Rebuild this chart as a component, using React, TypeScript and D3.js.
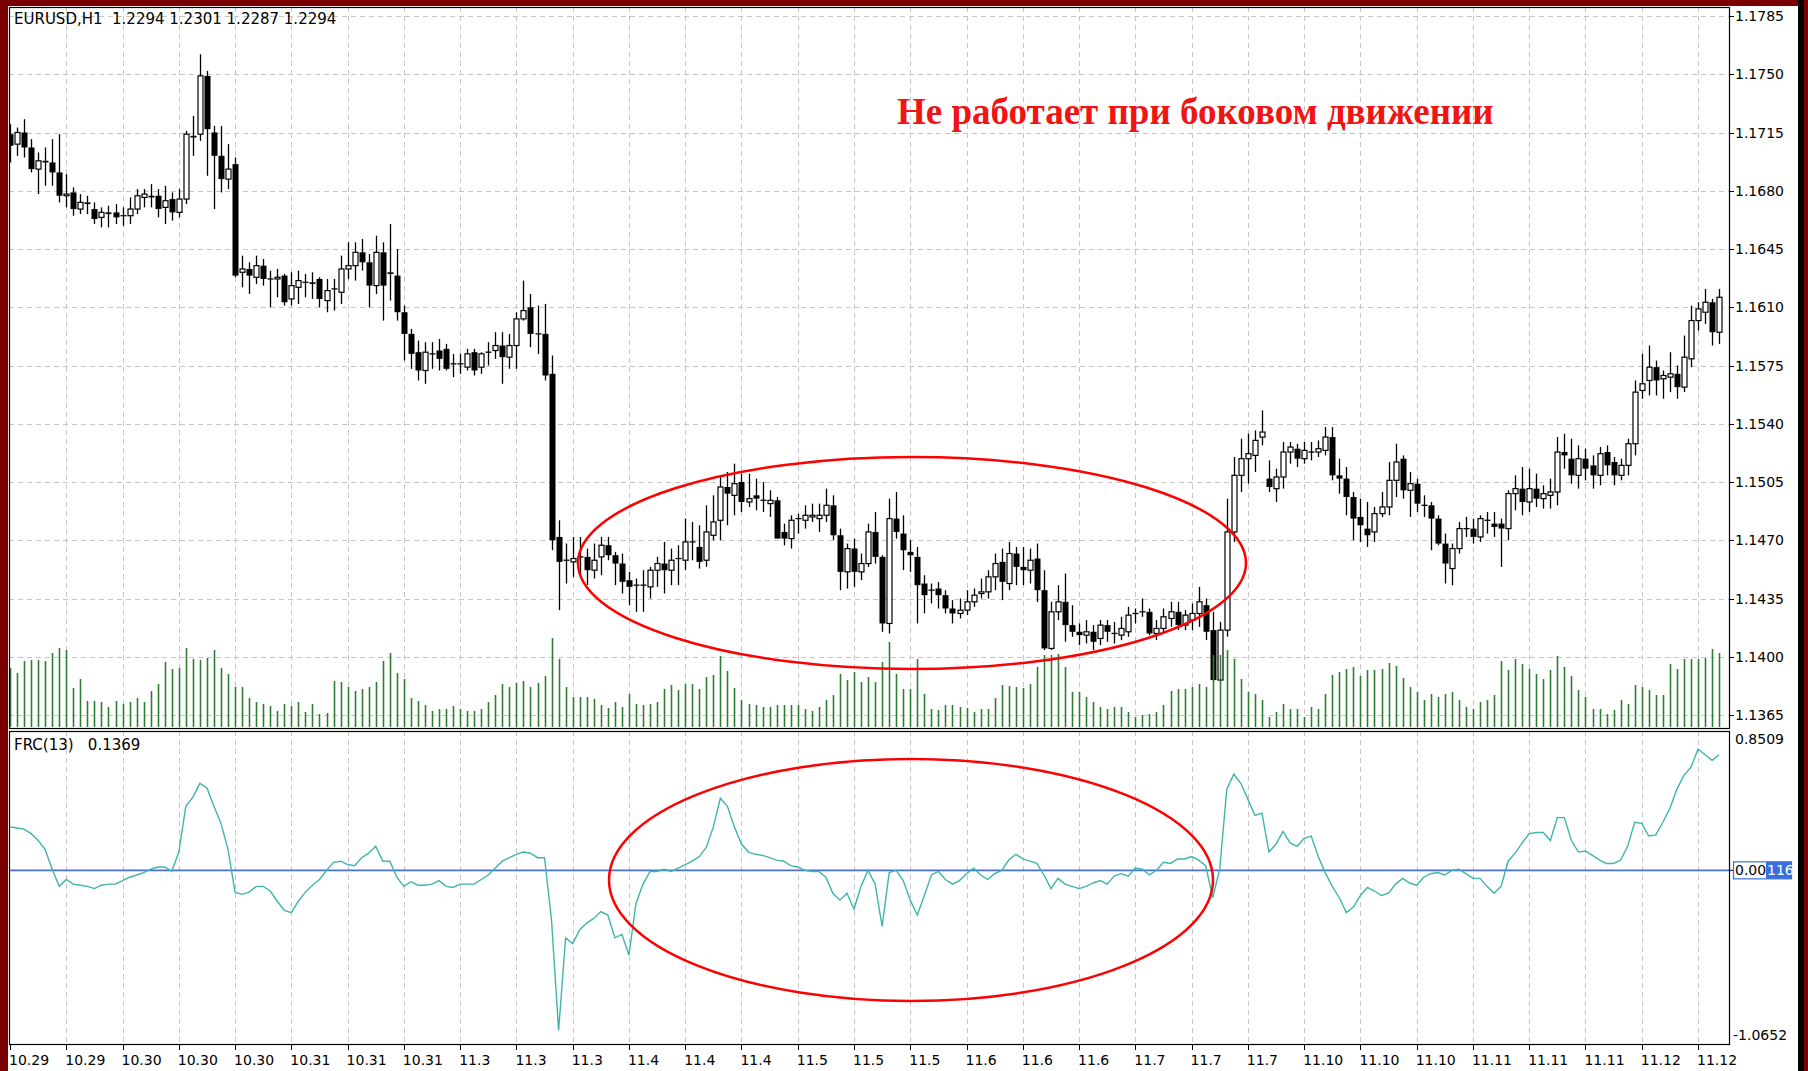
import React from "react";
import * as d3 from "d3";

const opens = [
1.1714,1.1708,1.1715,1.1706,1.1693,1.1698,1.1697,1.1691,1.1677,1.1679,
1.1669,1.1673,1.1669,1.1664,1.1667,1.1667,1.1665,1.1665,1.1669,1.1676,
1.1677,1.1677,1.1670,1.1675,1.1667,1.1675,1.1713,1.1714,1.1749,1.1715,
1.1701,1.1687,1.1696,1.1631,1.1633,1.1628,1.1635,1.1627,1.1627,1.1629,
1.1615,1.1622,1.1625,1.1625,1.1627,1.1614,1.1621,1.1619,1.1633,1.1635,
1.1643,1.1637,1.1623,1.1643,1.1631,1.1629,1.1607,1.1594,1.1583,1.1572,
1.1582,1.1584,1.1585,1.1576,1.1576,1.1574,1.1583,1.1574,1.1583,1.1584,
1.1587,1.1580,1.1587,1.1603,1.1610,1.1594,1.1594,1.1570,1.1472,1.1458,
1.1457,1.1460,1.1460,1.1452,1.1460,1.1467,1.1461,1.1456,1.1446,1.1443,
1.1443,1.1442,1.1452,1.1456,1.1452,1.1459,1.1458,1.1469,1.1466,1.1458,
1.1473,1.1482,1.1502,1.1497,1.1505,1.1493,1.1497,1.1494,1.1492,1.1494,
1.1475,1.1471,1.1483,1.1482,1.1484,1.1483,1.1485,1.1491,1.1473,1.1451,
1.1465,1.1451,1.1456,1.1475,1.1460,1.1420,1.1483,1.1474,1.1463,1.1460,
1.1444,1.1440,1.1441,1.1437,1.1429,1.1426,1.1428,1.1433,1.1438,1.1439,
1.1448,1.1457,1.1444,1.1462,1.1454,1.1452,1.1459,1.1440,1.1405,1.1427,
1.1433,1.1419,1.1415,1.1413,1.1415,1.1411,1.1419,1.1414,1.1413,1.1415,
1.1426,1.1427,1.1427,1.1414,1.1417,1.1423,1.1427,1.1419,1.1422,1.1426,
1.1431,1.1416,1.1386,1.1416,1.1475,1.1509,1.1519,1.1521,1.1532,1.1507,
1.1501,1.1508,1.1523,1.1525,1.1519,1.1523,1.1523,1.1524,1.1532,1.1509,
1.1507,1.1496,1.1484,1.1477,1.1475,1.1486,1.1490,1.1506,1.1519,1.1500,
1.1504,1.1491,1.1491,1.1483,1.1468,1.1453,1.1465,1.1477,1.1477,1.1472,
1.1482,1.1480,1.1480,1.1477,1.1498,1.1501,1.1493,1.1501,1.1495,1.1497,
1.1499,1.1523,1.1519,1.1509,1.1519,1.1515,1.1509,1.1523,1.1517,1.1509,
1.1515,1.1528,1.1560,1.1566,1.1574,1.1567,1.1568,1.1570,1.1562,1.1579,
1.1602,1.1607,1.1613,1.1595];

const highs = [
1.1720,1.1718,1.1723,1.1711,1.1703,1.1706,1.1711,1.1714,1.1690,1.1682,
1.1678,1.1677,1.1673,1.1670,1.1671,1.1672,1.1670,1.1676,1.1681,1.1681,
1.1684,1.1681,1.1683,1.1679,1.1681,1.1716,1.1725,1.1762,1.1752,1.1719,
1.1719,1.1708,1.1700,1.1641,1.1637,1.1641,1.1639,1.1632,1.1633,1.1630,
1.1631,1.1632,1.1630,1.1631,1.1628,1.1627,1.1627,1.1641,1.1649,1.1649,
1.1651,1.1642,1.1653,1.1649,1.1660,1.1645,1.1611,1.1597,1.1590,1.1589,
1.1589,1.1591,1.1588,1.1582,1.1582,1.1585,1.1585,1.1583,1.1589,1.1595,
1.1595,1.1594,1.1607,1.1626,1.1618,1.1611,1.1612,1.1581,1.1482,1.1468,
1.1472,1.1472,1.1465,1.1468,1.1472,1.1472,1.1463,1.1462,1.1451,1.1447,
1.1452,1.1454,1.1460,1.1469,1.1465,1.1467,1.1483,1.1481,1.1479,1.1491,
1.1497,1.1509,1.1511,1.1516,1.1510,1.1510,1.1507,1.1505,1.1500,1.1496,
1.1480,1.1485,1.1486,1.1491,1.1492,1.1492,1.1501,1.1497,1.1477,1.1468,
1.1471,1.1462,1.1480,1.1487,1.1461,1.1495,1.1499,1.1485,1.1470,1.1466,
1.1449,1.1444,1.1445,1.1440,1.1434,1.1435,1.1440,1.1441,1.1447,1.1452,
1.1462,1.1465,1.1469,1.1466,1.1466,1.1465,1.1468,1.1452,1.1433,1.1443,
1.1450,1.1431,1.1420,1.1422,1.1419,1.1422,1.1422,1.1421,1.1424,1.1430,
1.1429,1.1435,1.1429,1.1422,1.1429,1.1433,1.1433,1.1428,1.1432,1.1442,
1.1435,1.1427,1.1421,1.1495,1.1520,1.1531,1.1534,1.1536,1.1548,1.1518,
1.1513,1.1529,1.1529,1.1528,1.1529,1.1529,1.1530,1.1538,1.1538,1.1519,
1.1514,1.1499,1.1495,1.1493,1.1490,1.1499,1.1517,1.1528,1.1521,1.1511,
1.1507,1.1497,1.1493,1.1485,1.1474,1.1468,1.1481,1.1484,1.1483,1.1485,
1.1487,1.1487,1.1483,1.1500,1.1509,1.1514,1.1513,1.1510,1.1503,1.1507,
1.1532,1.1534,1.1531,1.1527,1.1525,1.1521,1.1526,1.1527,1.1520,1.1519,
1.1531,1.1566,1.1582,1.1587,1.1578,1.1572,1.1583,1.1575,1.1593,1.1611,
1.1613,1.1621,1.1615,1.1621];

const lows = [
1.1697,1.1701,1.1700,1.1691,1.1678,1.1683,1.1683,1.1673,1.1670,1.1665,
1.1666,1.1666,1.1660,1.1658,1.1658,1.1660,1.1659,1.1660,1.1666,1.1670,
1.1670,1.1664,1.1660,1.1662,1.1664,1.1672,1.1701,1.1710,1.1689,1.1669,
1.1679,1.1681,1.1628,1.1622,1.1618,1.1624,1.1623,1.1610,1.1616,1.1611,
1.1611,1.1612,1.1616,1.1615,1.1610,1.1607,1.1608,1.1612,1.1627,1.1626,
1.1632,1.1610,1.1618,1.1602,1.1614,1.1602,1.1578,1.1573,1.1566,1.1564,
1.1573,1.1572,1.1572,1.1568,1.1570,1.1572,1.1569,1.1570,1.1575,1.1579,
1.1564,1.1573,1.1573,1.1602,1.1586,1.1582,1.1566,1.1464,1.1428,1.1444,
1.1448,1.1448,1.1443,1.1447,1.1449,1.1458,1.1443,1.1438,1.1431,1.1427,
1.1427,1.1435,1.1442,1.1438,1.1443,1.1443,1.1452,1.1458,1.1453,1.1454,
1.1470,1.1470,1.1479,1.1485,1.1487,1.1490,1.1488,1.1487,1.1484,1.1471,
1.1467,1.1465,1.1474,1.1477,1.1481,1.1475,1.1481,1.1470,1.1440,1.1441,
1.1442,1.1446,1.1454,1.1456,1.1415,1.1414,1.1471,1.1452,1.1451,1.1420,
1.1426,1.1432,1.1429,1.1426,1.1420,1.1423,1.1425,1.1430,1.1435,1.1435,
1.1440,1.1434,1.1440,1.1443,1.1443,1.1444,1.1433,1.1404,1.1404,1.1422,
1.1409,1.1412,1.1407,1.1408,1.1404,1.1407,1.1409,1.1408,1.1410,1.1412,
1.1420,1.1424,1.1413,1.1410,1.1414,1.1418,1.1416,1.1416,1.1416,1.1418,
1.1410,1.1385,1.1385,1.1412,1.1469,1.1499,1.1504,1.1511,1.1527,1.1499,
1.1493,1.1501,1.1516,1.1514,1.1516,1.1518,1.1520,1.1521,1.1506,1.1498,
1.1485,1.1470,1.1469,1.1466,1.1469,1.1484,1.1485,1.1496,1.1495,1.1484,
1.1487,1.1484,1.1464,1.1467,1.1444,1.1443,1.1462,1.1472,1.1468,1.1469,
1.1474,1.1472,1.1454,1.1470,1.1488,1.1485,1.1487,1.1490,1.1489,1.1489,
1.1491,1.1513,1.1504,1.1501,1.1506,1.1501,1.1503,1.1509,1.1503,1.1506,
1.1509,1.1521,1.1555,1.1557,1.1557,1.1555,1.1559,1.1555,1.1559,1.1574,
1.1596,1.1600,1.1587,1.1588];

const closes = [
1.1707,1.1715,1.1706,1.1693,1.1698,1.1697,1.1691,1.1677,1.1678,1.1669,
1.1673,1.1672,1.1663,1.1667,1.1666,1.1664,1.1665,1.1669,1.1677,1.1678,
1.1676,1.1669,1.1674,1.1667,1.1675,1.1714,1.1712,1.1749,1.1717,1.1701,
1.1687,1.1693,1.1629,1.1633,1.1629,1.1635,1.1627,1.1627,1.1628,1.1613,
1.1623,1.1626,1.1625,1.1624,1.1615,1.1620,1.1621,1.1633,1.1635,1.1643,
1.1637,1.1623,1.1643,1.1623,1.1630,1.1607,1.1594,1.1582,1.1572,1.1583,
1.1582,1.1579,1.1573,1.1576,1.1576,1.1582,1.1572,1.1582,1.1583,1.1587,
1.1580,1.1587,1.1603,1.1608,1.1594,1.1594,1.1569,1.1470,1.1457,1.1458,
1.1459,1.1460,1.1452,1.1458,1.1467,1.1461,1.1456,1.1445,1.1442,1.1443,
1.1443,1.1452,1.1456,1.1452,1.1458,1.1459,1.1469,1.1469,1.1457,1.1475,
1.1481,1.1502,1.1498,1.1504,1.1493,1.1495,1.1495,1.1494,1.1494,1.1471,
1.1471,1.1482,1.1483,1.1485,1.1485,1.1485,1.1491,1.1473,1.1451,1.1465,
1.1451,1.1456,1.1475,1.1460,1.1420,1.1483,1.1475,1.1464,1.1461,1.1443,
1.1437,1.1440,1.1437,1.1429,1.1426,1.1428,1.1433,1.1437,1.1439,1.1448,
1.1456,1.1445,1.1462,1.1454,1.1452,1.1458,1.1440,1.1405,1.1427,1.1433,
1.1419,1.1415,1.1413,1.1415,1.1409,1.1419,1.1415,1.1414,1.1417,1.1425,
1.1426,1.1427,1.1414,1.1417,1.1424,1.1427,1.1419,1.1425,1.1426,1.1433,
1.1415,1.1386,1.1416,1.1475,1.1509,1.1519,1.1522,1.1530,1.1535,1.1502,
1.1508,1.1523,1.1526,1.1519,1.1524,1.1523,1.1525,1.1532,1.1509,1.1507,
1.1496,1.1483,1.1479,1.1473,1.1486,1.1490,1.1506,1.1517,1.1500,1.1504,
1.1492,1.1491,1.1483,1.1468,1.1456,1.1465,1.1477,1.1477,1.1472,1.1483,
1.1482,1.1478,1.1477,1.1498,1.1501,1.1493,1.1501,1.1495,1.1498,1.1499,
1.1523,1.1521,1.1509,1.1519,1.1513,1.1509,1.1522,1.1515,1.1509,1.1515,
1.1528,1.1559,1.1564,1.1574,1.1566,1.1569,1.1570,1.1562,1.1580,1.1602,
1.1609,1.1613,1.1595,1.1616];

const volumes = [
59,54,66,67,67,66,74,79,77,39,
48,26,26,25,20,26,23,25,29,25,
36,43,65,58,59,79,68,67,69,77,
59,53,40,40,29,25,23,21,16,23,
21,25,15,23,13,14,46,45,40,36,
38,40,45,66,74,54,48,29,26,22,
16,18,18,21,18,16,16,18,25,32,
43,40,44,46,40,44,51,89,68,40,
30,30,30,28,22,19,25,20,33,23,
22,23,25,38,42,37,43,43,38,50,
52,71,56,39,27,23,22,20,20,22,
22,22,22,18,16,20,27,32,53,47,
55,45,50,45,65,85,53,38,38,68,
33,18,17,22,22,20,19,15,18,18,
29,42,41,40,39,43,60,72,72,73,
60,35,35,30,25,20,18,20,20,15,
10,12,13,15,22,36,38,38,40,43,
40,72,72,77,68,48,35,33,27,10,
15,23,18,18,10,20,18,33,52,55,
58,60,51,57,57,58,64,61,49,40,
35,27,33,30,33,35,27,20,18,25,
27,32,66,57,68,63,58,53,48,57,
71,60,51,37,30,18,18,13,17,27,
23,42,40,37,32,32,63,58,68,68,
68,69,78,74];

const frc = [
0.271,0.264,0.257,0.229,0.186,0.129,0.007,-0.100,-0.057,-0.086,
-0.093,-0.100,-0.114,-0.093,-0.086,-0.086,-0.064,-0.043,-0.029,-0.014,
0.007,0.021,0.021,-0.007,0.114,0.400,0.457,0.543,0.514,0.400,
0.293,0.129,-0.136,-0.150,-0.136,-0.100,-0.100,-0.129,-0.193,-0.250,
-0.264,-0.193,-0.136,-0.093,-0.057,0.000,0.050,0.057,0.036,0.029,
0.079,0.107,0.150,0.057,0.057,-0.043,-0.100,-0.071,-0.093,-0.093,
-0.086,-0.064,-0.100,-0.107,-0.086,-0.086,-0.086,-0.057,-0.029,0.014,
0.057,0.079,0.100,0.114,0.107,0.079,0.079,-0.314,-1.000,-0.421,
-0.457,-0.371,-0.329,-0.300,-0.257,-0.279,-0.421,-0.400,-0.529,-0.207,
-0.086,-0.007,-0.007,0.007,-0.007,0.014,0.036,0.057,0.086,0.143,
0.271,0.450,0.400,0.271,0.164,0.114,0.100,0.093,0.079,0.064,
0.057,0.029,0.021,0.000,-0.007,-0.007,-0.043,-0.143,-0.186,-0.143,
-0.243,-0.100,0.000,-0.086,-0.350,-0.014,0.000,-0.064,-0.186,-0.279,
-0.157,-0.029,-0.007,-0.057,-0.086,-0.064,-0.021,0.014,-0.029,-0.057,
-0.021,0.000,0.064,0.100,0.071,0.057,0.043,-0.029,-0.114,-0.050,
-0.086,-0.100,-0.114,-0.100,-0.079,-0.064,-0.086,-0.036,-0.021,-0.036,
0.014,0.007,-0.029,0.000,0.050,0.043,0.071,0.071,0.086,0.064,
0.029,-0.171,0.007,0.507,0.600,0.543,0.443,0.343,0.357,0.114,
0.164,0.243,0.171,0.150,0.200,0.214,0.086,-0.014,-0.100,-0.171,
-0.264,-0.229,-0.157,-0.107,-0.129,-0.157,-0.143,-0.086,-0.050,-0.079,
-0.093,-0.043,-0.021,-0.014,-0.029,0.000,0.007,-0.021,-0.050,-0.050,
-0.100,-0.143,-0.100,0.057,0.107,0.171,0.229,0.236,0.236,0.186,
0.329,0.329,0.186,0.114,0.121,0.093,0.064,0.043,0.043,0.064,
0.150,0.300,0.293,0.214,0.221,0.300,0.386,0.507,0.593,0.643,
0.757,0.721,0.686,0.721];

const timeLabels = [
"10.29","10.29","10.30","10.30","10.30","10.31","10.31","10.31",
"11.3","11.3","11.3","11.4","11.4","11.4","11.5","11.5","11.5",
"11.6","11.6","11.6","11.7","11.7","11.7","11.10","11.10","11.10",
"11.11","11.11","11.11","11.12","11.12"];

const priceTicks = [1.1785,1.1750,1.1715,1.1680,1.1645,1.1610,1.1575,1.1540,1.1505,1.1470,1.1435,1.1400,1.1365];
const frcRange = [-1.0652, 0.8509];
const headerText = "EURUSD,H1  1.2294 1.2301 1.2287 1.2294";
const frcHeader = "FRC(13)   0.1369";
const noteText = "Не работает при боковом движении";

export default function App() {
  const L = 9, R = 1729, mT = 7, mB = 728, iT = 731, iB = 1044;
  const x = d3.scaleLinear().domain([0, 240]).range([10, 1698]);
  const yP = d3.scaleLinear().domain([1.1365, 1.1785]).range([715, 16]);
  const yV = d3.scaleLinear().domain([0, 100]).range([727, 627]);
  const yI = d3.scaleLinear().domain(frcRange).range([1041, 734]);
  const frcLine = d3.line<number>().x((_, i) => x(i)).y((d) => yI(d));
  const font = "DejaVu Sans";
  const grid = { stroke: "#c6c6c6", strokeWidth: 1, strokeDasharray: "5 4" };
  const tickIdx = timeLabels.map((_, k) => k * 8);

  return (
    <svg width={1808} height={1071} style={{ position: "absolute", left: 0, top: 0, display: "block" }}>
      <defs>
        <clipPath id="mainClip"><rect x={L} y={mT} width={R - L} height={mB - mT} /></clipPath>
        <clipPath id="indClip"><rect x={L} y={iT} width={R - L} height={iB - iT} /></clipPath>
      </defs>
      <rect x={0} y={0} width={1808} height={1071} fill="#7a0000" />
      <rect x={8} y={6} width={1790} height={1065} fill="#ffffff" />
      <rect x={1798} y={0} width={6} height={1071} fill="#000000" />

      <g clipPath="url(#mainClip)">
        {priceTicks.map((p) => (
          <line key={"hg" + p} x1={L} x2={R} y1={Math.round(yP(p)) + 0.5} y2={Math.round(yP(p)) + 0.5} {...grid} />
        ))}
        {tickIdx.slice(1).map((b) => (
          <line key={"vg" + b} x1={Math.round(x(b)) + 0.5} x2={Math.round(x(b)) + 0.5} y1={mT} y2={mB} {...grid} />
        ))}
        {opens.map((o, i) => {
          const c = closes[i];
          const cx = Math.round(x(i)) + 0.5;
          const top = yP(Math.max(o, c));
          const bot = yP(Math.min(o, c));
          const hgt = Math.max(bot - top, 1);
          return (
            <g key={"c" + i}>
              <line x1={cx} x2={cx} y1={yP(highs[i])} y2={yP(lows[i])} stroke="#000" strokeWidth={1.3} />
              {c > o ? (
                <rect x={cx - 2.5} y={top} width={5} height={hgt} fill="#fff" stroke="#000" strokeWidth={1.2} />
              ) : c < o ? (
                <rect x={cx - 3} y={top} width={6} height={hgt} fill="#000" />
              ) : (
                <line x1={cx - 3} x2={cx + 3} y1={top} y2={top} stroke="#000" strokeWidth={1.3} />
              )}
            </g>
          );
        })}
        {volumes.map((v, i) => (
          <line key={"v" + i} x1={Math.round(x(i)) + 0.5} x2={Math.round(x(i)) + 0.5} y1={yV(0)} y2={yV(v)} stroke="#2f7d32" strokeWidth={1.6} />
        ))}
      </g>

      <g clipPath="url(#indClip)">
        {tickIdx.slice(1).map((b) => (
          <line key={"ivg" + b} x1={Math.round(x(b)) + 0.5} x2={Math.round(x(b)) + 0.5} y1={iT} y2={iB} {...grid} />
        ))}
        <line x1={L} x2={R} y1={yI(0)} y2={yI(0)} stroke="#4a6fd8" strokeWidth={1.6} />
        <path d={frcLine(frc) || ""} fill="none" stroke="#3fb5ac" strokeWidth={1.4} />
      </g>

      <rect x={L + 0.5} y={mT + 0.5} width={R - L} height={mB - mT} fill="none" stroke="#000" strokeWidth={1.2} />
      <rect x={L + 0.5} y={iT + 0.5} width={R - L} height={iB - iT} fill="none" stroke="#000" strokeWidth={1.2} />

      {priceTicks.map((p) => (
        <g key={"pt" + p}>
          <line x1={R} x2={R + 5} y1={Math.round(yP(p)) + 0.5} y2={Math.round(yP(p)) + 0.5} stroke="#000" />
          <text x={R + 6} y={yP(p)} dominantBaseline="central" fontFamily={font} fontSize={14} fill="#000">{p.toFixed(4)}</text>
        </g>
      ))}

      <text x={R + 6} y={yI(frcRange[1]) + 5} dominantBaseline="central" fontFamily={font} fontSize={14} fill="#000">{frcRange[1].toFixed(4)}</text>
      <text x={R + 4} y={yI(frcRange[0]) - 6} dominantBaseline="central" fontFamily={font} fontSize={14} fill="#000">{frcRange[0].toFixed(4)}</text>
      <line x1={R} x2={R + 5} y1={yI(0)} y2={yI(0)} stroke="#000" />
      <rect x={R + 4.5} y={yI(0) - 8.5} width={58} height={17} fill="#fff" stroke="#3b6fdc" strokeWidth={1.2} />
      <rect x={R + 37} y={yI(0) - 8.5} width={25} height={17} fill="#3b6fdc" />
      <text x={R + 6} y={yI(0)} dominantBaseline="central" fontFamily={font} fontSize={14} fill="#000">0.00</text>
      <text x={R + 38} y={yI(0)} dominantBaseline="central" fontFamily={font} fontSize={14} fill="#fff">116</text>

      {tickIdx.map((b, k) => (
        <g key={"tt" + k}>
          <line x1={Math.round(x(b)) + 0.5} x2={Math.round(x(b)) + 0.5} y1={iB} y2={iB + 6} stroke="#000" />
          <text x={x(b) - 1} y={1060} dominantBaseline="central" fontFamily={font} fontSize={14} fill="#000">{timeLabels[k]}</text>
        </g>
      ))}

      <text x={14} y={19} dominantBaseline="central" fontFamily={font} fontSize={15} fill="#000" style={{ whiteSpace: "pre" }}>{headerText}</text>
      <text x={14} y={745} dominantBaseline="central" fontFamily={font} fontSize={15} fill="#000" style={{ whiteSpace: "pre" }}>{frcHeader}</text>

      <ellipse cx={912} cy={563} rx={334} ry={106} fill="none" stroke="#ff0000" strokeWidth={2.5} />
      <ellipse cx={911} cy={880} rx={302} ry={121} fill="none" stroke="#ff0000" strokeWidth={2.5} />
      <text x={897} y={124} fontFamily="Liberation Serif" fontWeight="bold" fontSize={37} fill="#f01414">{noteText}</text>
    </svg>
  );
}
